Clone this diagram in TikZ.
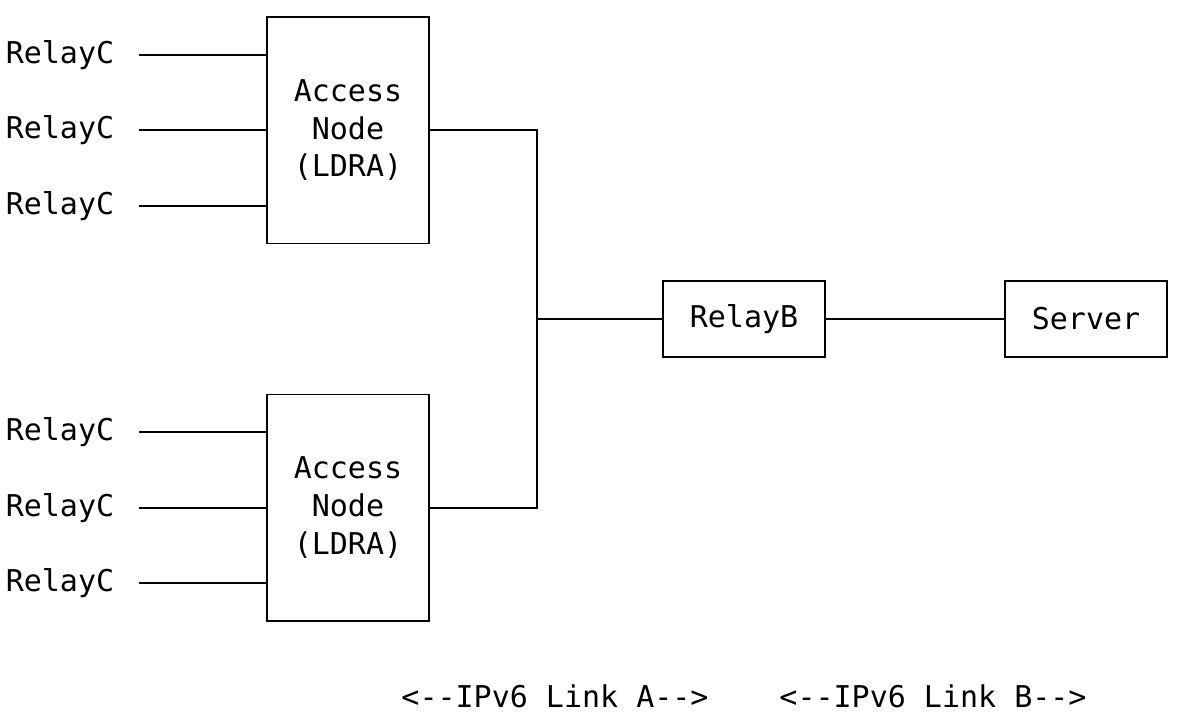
\documentclass[tikz,border=0pt]{standalone}
\usepackage{fontspec}
\setmonofont{DejaVu Sans Mono}
\begin{document}
\begin{tikzpicture}[
  x=13.5pt, y=-28.3125pt,
  every path/.append style={line width=1.4pt},
  font=\ttfamily\fontsize{22.5}{28.3125}\selectfont,
  box/.style={draw, inner sep=0pt, minimum width=121.5pt, align=center},
  relay/.style={inner ysep=0pt, inner xsep=18pt},
  link/.style={inner sep=0pt}
  ]
  \useasboundingbox (-0.8333,-0.45) rectangle (64.8333,18.41);

  % access nodes, relay and server
  \node [box, minimum height=169.875pt] (an1) at (18.5,3) {Access\\Node\\(LDRA)};
  \node [box, minimum height=169.875pt] (an2) at (18.5,13) {Access\\Node\\(LDRA)};
  \node [box, minimum height=56.625pt] (rb) at (40.5,8) {RelayB};
  \node [box, minimum height=56.625pt] (srv) at (59.5,8) {Server};

  \foreach \r/\b in {1/an1,3/an1,5/an1,11/an2,13/an2,15/an2} {
    \node [relay] (rc\r) at (2.5,\r) {RelayC};
    \draw (rc\r) -- (rc\r -| \b.west);
  }

  \coordinate (jn) at (29,8);
  \draw (an1.east) -| (jn) |- (an2.east);
  \draw (jn) -- (rb);
  \draw (rb) -- (srv);

  % links
  \node [link] (la) at (30,18) {<--IPv6 Link A-->};
  \node [link] (lb) at (51,18) {<--IPv6 Link B-->};
\end{tikzpicture}
\end{document}
